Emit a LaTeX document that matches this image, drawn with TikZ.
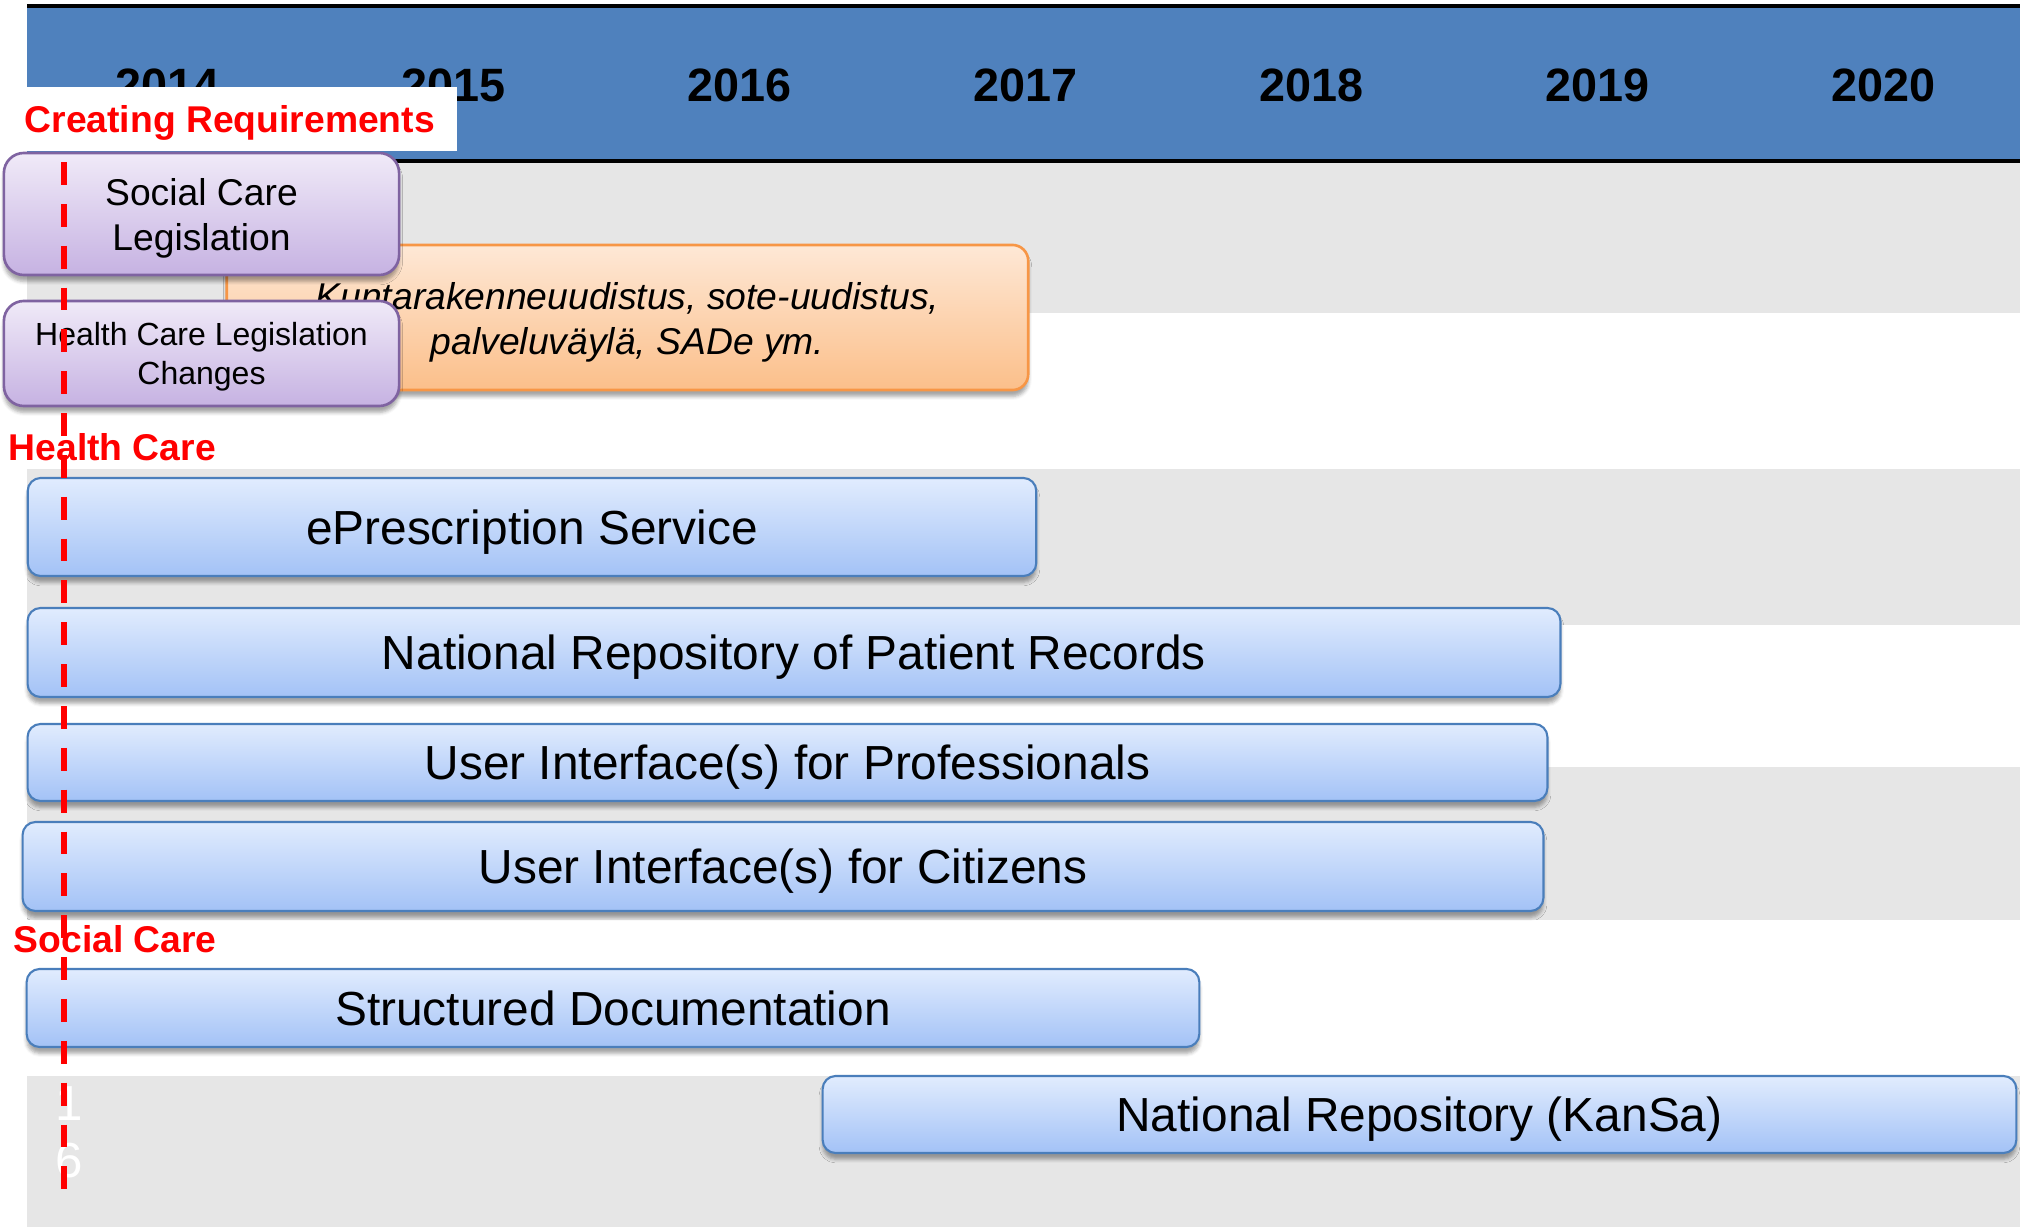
\documentclass[tikz,border=0pt]{standalone}
\usepackage{fontspec}
\setmainfont{Liberation Sans}
\usetikzlibrary{shadows.blur}

\definecolor{headblue}{HTML}{4F81BD}
\definecolor{bandgray}{HTML}{E6E6E6}
\definecolor{barline}{HTML}{4A7EBB}
\definecolor{bartop}{HTML}{E1ECFE}
\definecolor{barbot}{HTML}{A3C2F6}
\definecolor{lawline}{HTML}{7F63A1}
\definecolor{lawtop}{HTML}{F0EAF8}
\definecolor{lawbot}{HTML}{C6B2E2}
\definecolor{reformline}{HTML}{F79646}
\definecolor{reformtop}{HTML}{FEE8D6}
\definecolor{reformbot}{HTML}{FBBF8A}

\begin{document}
\begin{tikzpicture}[x=0.01cm,y=-0.01cm,
  yearlabel/.style={font=\fontsize{13.3}{16}\selectfont\bfseries,anchor=base,inner sep=0pt},
  grouplabel/.style={font=\fontsize{10.6}{12.8}\selectfont\bfseries,text=red,anchor=base west,inner sep=0pt},
  softshadow/.style={blur shadow={shadow xshift=0pt,shadow yshift=-1.8pt,shadow blur radius=1pt,shadow opacity=35}},
  taskbar/.style={draw=barline,line width=0.6pt,rounded corners=3.7pt,top color=bartop,bottom color=barbot,softshadow,
    font=\fontsize{13.6}{16}\selectfont,inner sep=0pt,text height=9.7pt,text depth=0pt},
  lawbox/.style={draw=lawline,line width=0.75pt,rounded corners=5.7pt,top color=lawtop,bottom color=lawbot,softshadow,
    align=center,inner sep=0pt},
  reformbox/.style={draw=reformline,line width=0.75pt,rounded corners=4.5pt,top color=reformtop,bottom color=reformbot,softshadow,
    align=center,inner sep=0pt,font=\fontsize{10.6}{12.8}\selectfont\itshape}
]
\useasboundingbox (0,0) rectangle (2020,1227);

\foreach \ya/\yb in {162/313,469/625,767/920,1076/1227}
  \fill[bandgray] (27,\ya) rectangle (2020,\yb);

\fill[headblue] (27,6) rectangle (2020,161);
\draw[line width=1.4pt] (27,6) -- (2020,6) (27,161) -- (2020,161);
\foreach \yr [count=\i from 0] in {2014,...,2020}
  \node[yearlabel] (y\yr) at (167.5+286*\i,101) {\yr};

\fill[white] (27,87) rectangle (457,151);
\node[grouplabel] (reqlabel) at (24,133) {Creating Requirements};

\node[reformbox,minimum width=8.01cm,minimum height=1.45cm] (reform) at (627.5,317.5)
  {\rule{0pt}{10.6pt}Kuntarakenneuudistus, sote-uudistus,\\palveluväylä, SADe ym.};
\node[lawbox,minimum width=3.95cm,minimum height=1.22cm,font=\fontsize{10.6}{12.8}\selectfont] (sclaw) at (201.5,214)
  {\rule{0pt}{10.3pt}Social Care\\Legislation};
\node[lawbox,minimum width=3.95cm,minimum height=1.05cm,font=\fontsize{9.1}{11}\selectfont] (hclaw) at (201.5,353.5)
  {\rule{0pt}{8.6pt}Health Care Legislation\\Changes};

\node[grouplabel] (hclabel) at (8,460) {Health Care};
\node[taskbar,minimum width=10.08cm,minimum height=0.98cm] (erx) at (532,527) {ePrescription Service};
\node[taskbar,minimum width=15.32cm,minimum height=0.89cm] (kanta) at (794,652.5) {National Repository of Patient Records};
\node[taskbar,minimum width=15.19cm,minimum height=0.77cm] (uipro) at (787.5,762.5) {User Interface(s) for Professionals};
\node[taskbar,minimum width=15.20cm,minimum height=0.89cm] (uicit) at (783,866.5) {User Interface(s) for Citizens};

\node[grouplabel] (sclabel) at (13,952) {Social Care};
\node[taskbar,minimum width=11.72cm,minimum height=0.78cm] (sdoc) at (613,1008) {Structured Documentation};
\node[taskbar,minimum width=11.93cm,minimum height=0.77cm] (kansa) at (1419.5,1114.5) {National Repository (KanSa)};

\node[text=white,font=\fontsize{14}{16}\selectfont,anchor=base,inner sep=0pt] (pga) at (69,1120) {1};
\node[text=white,font=\fontsize{14}{16}\selectfont,anchor=base,inner sep=0pt] (pgb) at (69,1177) {6};

\coordinate (dashtop) at (64,162);
\coordinate (dashbot) at (64,1193);
\draw[red,line width=1.5pt,dash pattern=on 6.5pt off 5.4pt] (dashtop) -- (dashbot);

\end{tikzpicture}
\end{document}
